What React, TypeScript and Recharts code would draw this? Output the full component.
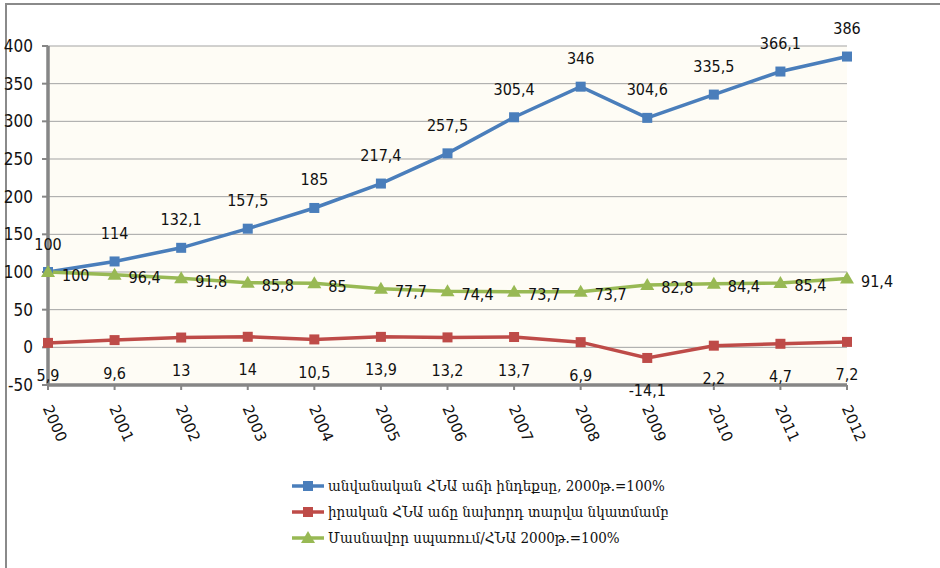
import React from 'react';
import { LineChart, Line, XAxis, YAxis, CartesianGrid, Legend, LabelList } from 'recharts';

const years = ['2000', '2001', '2002', '2003', '2004', '2005', '2006', '2007', '2008', '2009', '2010', '2011', '2012'];
const nominalGdpIndex = [100, 114, 132.1, 157.5, 185, 217.4, 257.5, 305.4, 346, 304.6, 335.5, 366.1, 386];
const realGdpGrowth = [5.9, 9.6, 13, 14, 10.5, 13.9, 13.2, 13.7, 6.9, -14.1, 2.2, 4.7, 7.2];
const consumptionToGdp = [100, 96.4, 91.8, 85.8, 85, 77.7, 74.4, 73.7, 73.7, 82.8, 84.4, 85.4, 91.4];
const yTicks = [-50, 0, 50, 100, 150, 200, 250, 300, 350, 400];

const seriesNames = [
  'անվանական ՀՆԱ աճի ինդեքսը, 2000թ.=100%',
  'իրական ՀՆԱ աճը նախորդ տարվա նկատմամբ',
  'Մասնավոր սպառում/ՀՆԱ  2000թ.=100%',
];

const data = years.map((year, i) => ({
  year,
  nominal: nominalGdpIndex[i],
  real: realGdpGrowth[i],
  consumption: consumptionToGdp[i],
}));

const BLUE = '#4A7EBB';
const RED = '#BE4B48';
const GREEN = '#98B954';
const AXIS = '#868686';
const NUM_FONT = "'Liberation Sans Narrow', 'DejaVu Sans Condensed', sans-serif";

const fmt = (v: any) => String(v).replace('.', ',');

const SquareDot = (color: string) => (props: any) => {
  const { cx, cy } = props;
  if (cx == null || cy == null) return null;
  return <rect x={cx - 5} y={cy - 5} width={10} height={10} fill={color} />;
};

const TriangleDot = (color: string) => (props: any) => {
  const { cx, cy } = props;
  if (cx == null || cy == null) return null;
  return <polygon points={`${cx},${cy - 7} ${cx + 7},${cy + 5} ${cx - 7},${cy + 5}`} fill={color} />;
};

const AboveLabel = (props: any) => {
  const { x, y, value } = props;
  return (
    <text x={x} y={y - 28} textAnchor="middle" dominantBaseline="central" fontFamily={NUM_FONT} fontSize={16} fill="#111">
      {fmt(value)}
    </text>
  );
};

const BelowLabel = (props: any) => {
  const { x, y, value } = props;
  return (
    <text x={x} y={y + 33} textAnchor="middle" dominantBaseline="central" fontFamily={NUM_FONT} fontSize={16} fill="#111">
      {fmt(value)}
    </text>
  );
};

const RightLabel = (props: any) => {
  const { x, y, value } = props;
  return (
    <text x={x + 14} y={y + 3} textAnchor="start" dominantBaseline="central" fontFamily={NUM_FONT} fontSize={16} fill="#111">
      {fmt(value)}
    </text>
  );
};

const XTick = (props: any) => {
  const { x, y, payload } = props;
  return (
    <g transform={`translate(${x - 1},${y + 14}) rotate(66)`}>
      <text x={0} y={0} textAnchor="start" dominantBaseline="central" fontFamily="'DejaVu Sans', sans-serif" fontSize={15} fill="#111">
        {payload.value}
      </text>
    </g>
  );
};

const YTick = (props: any) => {
  const { x, y, payload } = props;
  return (
    <text x={x} y={y} textAnchor="end" dominantBaseline="central" fontFamily={NUM_FONT} fontSize={17} fill="#111">
      {payload.value}
    </text>
  );
};

const legendColors = [BLUE, RED, GREEN];

const LegendContent = () => (
  <div style={{ display: 'flex', flexDirection: 'column' }}>
    {seriesNames.map((name, i) => (
      <div key={name} style={{ display: 'flex', alignItems: 'center', height: 26 }}>
        <svg width={32} height={14} style={{ marginRight: 4 }}>
          <line x1={0} y1={7} x2={32} y2={7} stroke={legendColors[i]} strokeWidth={3.5} />
          {i < 2 ? (
            <rect x={11} y={2} width={10} height={10} fill={legendColors[i]} />
          ) : (
            <polygon points="16,0 23,12 9,12" fill={legendColors[i]} />
          )}
        </svg>
        <span style={{ fontFamily: "'DejaVu Serif Condensed', 'DejaVu Serif', serif", fontSize: 15, color: '#111', whiteSpace: 'nowrap' }}>
          {name}
        </span>
      </div>
    ))}
  </div>
);

export default function App() {
  return (
    <div style={{ position: 'absolute', left: 0, top: 0, width: 940, height: 568, background: '#fff' }}>
      <div
        style={{
          position: 'absolute',
          left: 5,
          top: 3,
          width: 935,
          height: 565,
          borderTop: '2px solid #8a8a8a',
          borderLeft: '2px solid #8a8a8a',
          boxSizing: 'border-box',
        }}
      />
      <div style={{ position: 'absolute', left: 0, top: 0 }}>
        <LineChart width={940} height={568} data={data} margin={{ top: 46, right: 93, bottom: 113, left: 0 }}>
          <CartesianGrid vertical={false} stroke="#a3a3a3" fill="#FEFCF5" />
          <XAxis
            dataKey="year"
            height={70}
            axisLine={{ stroke: AXIS, strokeWidth: 3.5 }}
            tickLine={{ stroke: AXIS, strokeWidth: 2 }}
            tickSize={5}
            tick={<XTick />}
            interval={0}
          />
          <YAxis
            width={48}
            domain={[-50, 400]}
            ticks={yTicks}
            allowDataOverflow
            axisLine={{ stroke: AXIS, strokeWidth: 3.5 }}
            tickLine={{ stroke: AXIS, strokeWidth: 2 }}
            tickSize={6}
            tickMargin={9}
            tick={<YTick />}
          />
          <Legend
            layout="vertical"
            align="center"
            verticalAlign="middle"
            content={<LegendContent />}
            wrapperStyle={{ position: 'absolute', left: 292, top: 473, width: 420 }}
          />
          <Line
            type="linear"
            dataKey="nominal"
            name={seriesNames[0]}
            stroke={BLUE}
            strokeWidth={3.5}
            dot={SquareDot(BLUE)}
            activeDot={false}
            isAnimationActive={false}
          >
            <LabelList dataKey="nominal" content={<AboveLabel />} />
          </Line>
          <Line
            type="linear"
            dataKey="real"
            name={seriesNames[1]}
            stroke={RED}
            strokeWidth={3.5}
            dot={SquareDot(RED)}
            activeDot={false}
            isAnimationActive={false}
          >
            <LabelList dataKey="real" content={<BelowLabel />} />
          </Line>
          <Line
            type="linear"
            dataKey="consumption"
            name={seriesNames[2]}
            stroke={GREEN}
            strokeWidth={3.5}
            dot={TriangleDot(GREEN)}
            activeDot={false}
            isAnimationActive={false}
          >
            <LabelList dataKey="consumption" content={<RightLabel />} />
          </Line>
        </LineChart>
      </div>
    </div>
  );
}
